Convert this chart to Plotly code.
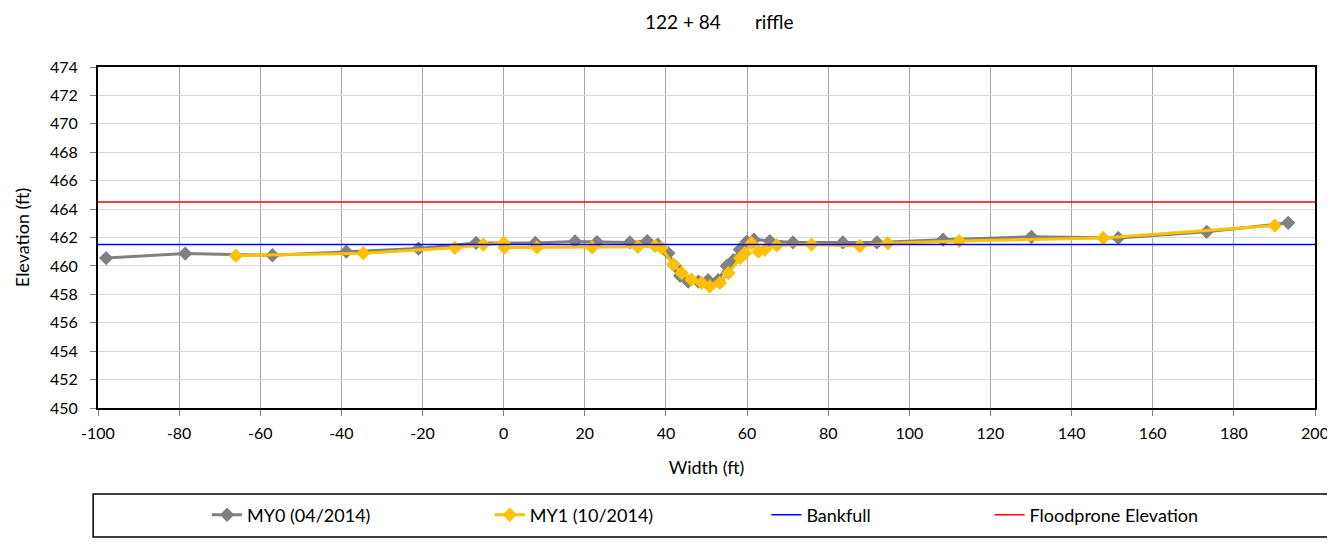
import plotly.graph_objects as go

# ---- data ----
my0_x = [-98, -78.5, -57, -38.8, -21, -6.8, 7.8, 17.6, 23, 31.1, 35.4, 38, 40.6, 42.2,
         43.5, 45.5, 48, 50.4, 52.9, 55, 56.6, 58.2, 59.9, 61.7, 65.6, 71.3, 83.6, 92,
         108.3, 130.1, 151.5, 173.3, 193.4]
my0_y = [460.55, 460.87, 460.75, 461.0, 461.22, 461.62, 461.62, 461.72, 461.68, 461.65,
         461.75, 461.5, 460.9, 460.0, 459.3, 458.9, 458.9, 459.0, 459.0, 460.0, 460.4,
         461.15, 461.7, 461.85, 461.75, 461.65, 461.65, 461.65, 461.85, 462.05, 461.97,
         462.4, 463.03]

my1_x = [-66, -34.6, -12, -5, 0, 0.2, 8.2, 21.8, 33.1, 37.3, 38.9, 41.8, 43.9, 46.3,
         48.8, 50.8, 53.3, 55.4, 58.3, 59.5, 61.1, 62.8, 64.4, 67.3, 75.9, 87.8, 94.7,
         112.3, 147.8, 190.1]
my1_y = [460.72, 460.9, 461.27, 461.5, 461.62, 461.3, 461.3, 461.3, 461.35, 461.4,
         461.27, 460.1, 459.5, 459.03, 458.8, 458.56, 458.8, 459.5, 460.56, 460.9,
         461.6, 461.0, 461.15, 461.45, 461.5, 461.4, 461.6, 461.75, 461.97, 462.84]

bankfull_x = [-100, 200]
bankfull_y = [461.5, 461.5]
flood_x = [-100, 200]
flood_y = [464.5, 464.5]

x_ticks = list(range(-100, 201, 20))
x_labels = [str(v) for v in x_ticks]  # plain hyphen minus, as in the reference
y_ticks = list(range(450, 475, 2))

FONT = "Lato, 'Open Sans', sans-serif"

fig = go.Figure()
fig.add_trace(go.Scatter(x=my0_x, y=my0_y, mode="lines+markers", name="MY0 (04/2014)",
                         line=dict(color="#808080", width=3),
                         marker=dict(symbol="diamond", size=11, color="#808080"),
                         legend="legend"))
fig.add_trace(go.Scatter(x=my1_x, y=my1_y, mode="lines+markers", name="MY1 (10/2014)",
                         line=dict(color="#FFC000", width=3),
                         marker=dict(symbol="diamond", size=11, color="#FFC000"),
                         legend="legend2"))
fig.add_trace(go.Scatter(x=bankfull_x, y=bankfull_y, mode="lines", name="Bankfull",
                         line=dict(color="#0000FF", width=1.5), legend="legend3"))
fig.add_trace(go.Scatter(x=flood_x, y=flood_y, mode="lines", name="Floodprone Elevation",
                         line=dict(color="#FF0000", width=1.5), legend="legend4"))

def leg(xp):
    return dict(x=xp, y=-0.314, xanchor="left", yanchor="middle", orientation="h",
                bgcolor="rgba(0,0,0,0)", borderwidth=0,
                font=dict(family=FONT, size=18, color="#000"))

fig.update_layout(
    width=1327, height=539,
    margin=dict(l=90, r=20, t=59, b=139, autoexpand=False),
    paper_bgcolor="white", plot_bgcolor="white",
    font=dict(family=FONT, size=16, color="#000"),
    showlegend=True,
    legend=leg(0.0896),
    legend2=leg(0.3219),
    legend3=leg(0.5492),
    legend4=leg(0.7326),
    xaxis=dict(range=[-100, 200], tickvals=x_ticks, ticktext=x_labels, showgrid=True,
               gridcolor="#a6a6a6", gridwidth=1, zeroline=False, showline=True,
               linecolor="black", linewidth=2, mirror=True, ticks="outside", ticklen=6,
               tickcolor="#808080", automargin=False, ticklabelstandoff=4,
               title=dict(text="Width (ft)", font=dict(size=18), standoff=20),
               tickfont=dict(size=16)),
    yaxis=dict(range=[450, 474], tickvals=y_ticks, showgrid=True, gridcolor="#d9d9d9",
               gridwidth=1, zeroline=False, showline=True, linecolor="black", linewidth=2,
               mirror=True, ticks="outside", ticklen=6, tickcolor="#808080",
               automargin=False, ticklabelstandoff=9,
               title=dict(text="Elevation (ft)", font=dict(size=18), standoff=16),
               tickfont=dict(size=16)),
    shapes=[dict(type="rect", xref="paper", yref="paper", x0=-0.004, x1=1.012,
                 y0=-0.378, y1=-0.252, line=dict(color="black", width=1.5),
                 fillcolor="rgba(0,0,0,0)", layer="below")],
    annotations=[dict(text="122 + 84\u00a0\u00a0\u00a0\u00a0\u00a0\u00a0\u00a0riffle",
                      xref="paper", yref="paper", x=0.5107, y=1.0, yshift=46,
                      xanchor="center", yanchor="middle", showarrow=False,
                      font=dict(size=19, family=FONT))],
)

fig.write_html("out.html")
